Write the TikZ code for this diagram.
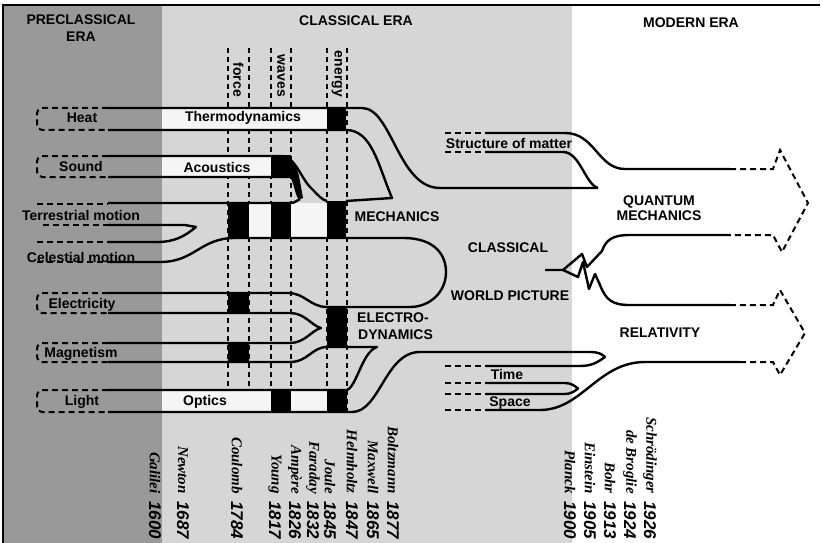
\documentclass[tikz,border=0pt]{standalone}
\usepackage{fontspec}
\setmainfont{Liberation Sans}
\newfontfamily\signame{Liberation Serif}
\begin{document}
\begin{tikzpicture}[x=1pt,y=-1pt,
  bl/.style={line width=2.4pt, line join=round},
  dl/.style={line width=2pt, dash pattern=on 6pt off 4pt},
  vd/.style={line width=1.5pt, dash pattern=on 5pt off 4pt},
  lbl/.style={font=\fontsize{14}{15}\selectfont\bfseries, inner sep=0pt, align=center},
  vlbl/.style={lbl, rotate=-90, anchor=east},
  nm/.style={rotate=-90, anchor=east, inner sep=0pt, font=\signame\bfseries\itshape\fontsize{15}{17}\selectfont},
  yr/.style={rotate=-90, anchor=west, inner sep=0pt, font=\fontsize{17}{19}\selectfont\bfseries\itshape}]
\useasboundingbox (0,0) rectangle (823,543);
\begin{scope}
\clip (0,0) rectangle (823,543);
% era backgrounds
\fill[white] (0,0) rectangle (823,543);
\fill[black!40] (3,5) rectangle (162,543);
\fill[black!16] (162,5) rectangle (572,543);
\draw[line width=1.5pt] (3,543) -- (3,5) -- (820,5);

% vertical dashed guides (force, waves, energy)
\foreach \x in {228,249,271,291,327,347} \draw[vd] (\x,48) -- (\x,412);

% lighter band interiors
\fill[black!4] (162,108) rectangle (327,130);
\fill[black!4] (162,156) rectangle (271,177);
\fill[black!4] (249,203) rectangle (271,238);
\fill[black!4] (291,203) rectangle (327,238);
\fill[black!4] (162,390) rectangle (271,412);
\fill[black!4] (291,390) rectangle (327,412);

% black bars
\fill (327,108) rectangle (346,130);
\fill (271,155) rectangle (291,178);
\fill (280,155) .. controls (292,156) and (296,165) .. (299,176) -- (303,198) -- (300,199)
  .. controls (296,195) and (295,181) .. (291,177) -- (271,177) -- (271,155) -- cycle;
\fill (228,203) rectangle (249,238);
\fill (271,203) rectangle (291,238);
\fill (327,201) rectangle (346,238);
\fill (228,293) rectangle (249,313);
\fill (228,343) rectangle (249,362);
\fill (327,307) rectangle (347,347);
\fill (271,390) rectangle (291,412);
\fill (327,390) rectangle (347,412);

% source boxes (dashed)
\draw[dl, rounded corners=5pt] (108,108) -- (37,108) -- (37,130) -- (108,130);
\draw[dl, rounded corners=5pt] (108,156) -- (37,156) -- (37,177) -- (108,177);
\draw[dl] (37,204) -- (108,204);
\draw[dl] (43,225) -- (108,225);
\draw[dl] (37,242) -- (108,242);
\draw[dl] (37,262) -- (108,262);
\draw[dl, rounded corners=5pt] (108,293) -- (37,293) -- (37,313) -- (108,313);
\draw[dl, rounded corners=5pt] (108,343) -- (37,343) -- (37,362) -- (108,362);
\draw[dl, rounded corners=5pt] (108,390) -- (37,390) -- (37,412) -- (108,412);
\draw[dl] (445,133) -- (485,133);
\draw[dl] (445,152) -- (485,152);
\draw[dl] (445,366) -- (485,366);
\draw[dl] (445,383) -- (485,383);
\draw[dl] (445,394) -- (485,394);
\draw[dl] (445,410) -- (485,410);

% heat / thermodynamics
\draw[bl] (108,108) -- (362,108) .. controls (392,108) and (398,188) .. (440,188) -- (598,188);
\draw[bl] (108,130) -- (346,130) .. controls (372,130) and (378,165) .. (392,198) -- (346,201);
% sound / acoustics
\draw[bl] (108,156) -- (280,156) .. controls (296,156) and (300,178) .. (312,189) .. controls (318,195) and (322,200) .. (327,201);
\draw[bl] (108,177) -- (291,177) .. controls (295,181) and (296,195) .. (300,199);
% mechanics
\draw[bl] (108,203) -- (291,203) .. controls (295,203) and (297,200) .. (300,199);
\draw[bl] (108,225) -- (185,225) -- (196,227) .. controls (185,236) and (175,242) .. (157,242) -- (108,242);
\draw[bl] (108,262) -- (160,262) .. controls (195,262) and (200,238) .. (235,238) -- (403,238)
  .. controls (438,238) and (446,258) .. (446,272) .. controls (446,292) and (430,307) .. (410,307)
  -- (327,307) .. controls (310,307) and (305,293) .. (288,293) -- (108,293);
% electricity / magnetism
\draw[bl] (108,313) -- (290,313) .. controls (305,313) and (312,326) .. (321,328)
  .. controls (312,330) and (305,343) .. (290,343) -- (108,343);
\draw[bl] (108,362) -- (290,362) .. controls (308,362) and (312,347) .. (327,347) -- (377,347)
  .. controls (362,352) and (357,386) .. (347,390) -- (108,390);
% optics -> relativity side
\draw[bl] (108,412) -- (352,412) .. controls (380,412) and (385,352) .. (420,352) -- (590,352)
  .. controls (598,352) and (602,354) .. (605,357) .. controls (598,362) and (592,366) .. (580,366) -- (485,366);
\draw[bl] (485,383) -- (565,383) .. controls (571,383) and (575,386) .. (578,388.5)
  .. controls (575,391) and (571,394) .. (565,394) -- (485,394);
\draw[bl] (485,410) -- (540,410) .. controls (582,410) and (598,362) .. (645,362) -- (740,362);
\draw[dl] (740,362) -- (773,362) -- (780,375) -- (805,333) -- (780,290) -- (773,305) -- (730,305);
% structure of matter -> quantum mechanics
\draw[bl] (485,133) -- (565,133) .. controls (595,133) and (598,169) .. (625,169) -- (730,169);
\draw[bl] (485,152) -- (563,152) .. controls (580,152) and (585,184) .. (598,188);
\draw[dl] (730,169) -- (773,169) -- (780,150) -- (808,203) -- (782,252) -- (773,235) -- (730,235);
% break of the classical world picture
\draw[bl] (545,270) -- (563,270) -- (582,254) -- (587,267) -- (602,251)
  .. controls (606,240) and (612,235) .. (630,235) -- (730,235);
\draw[bl] (563,270) -- (578,277) -- (583,262) -- (589,289) -- (595,274) -- (600,285)
  .. controls (606,300) and (612,305) .. (630,305) -- (730,305);

% era titles
\node[lbl] (pre) at (81,28) {PRECLASSICAL\\[2pt]ERA};
\node[lbl] (cla) at (356,21) {CLASSICAL ERA};
\node[lbl] (mod) at (691,23) {MODERN ERA};
% concept labels
\node[vlbl] (force) at (238.5,97) {force};
\node[vlbl] (waves) at (281,97) {waves};
\node[vlbl] (energy) at (337,97) {energy};
% sources
\node[lbl] (heat) at (82,118) {Heat};
\node[lbl] (sound) at (81,166) {Sound};
\node[lbl] (terr) at (81,215) {Terrestrial motion};
\node[lbl] (cel) at (81,257) {Celestial motion};
\node[lbl] (elec) at (82,305) {Electricity};
\node[lbl] (magn) at (81,354) {Magnetism};
\node[lbl] (light) at (82,402) {Light};
% classical theories
\node[lbl] (thermo) at (243,118) {Thermodynamics};
\node[lbl] (acou) at (217,167) {Acoustics};
\node[lbl] (optics) at (205,402) {Optics};
\node[lbl] (mech) at (397,217) {MECHANICS};
\node[lbl, anchor=west] (ed1) at (357,318) {ELECTRO-};
\node[lbl, anchor=west] (ed2) at (358,335) {DYNAMICS};
\node[lbl] (cwp1) at (508,248) {CLASSICAL};
\node[lbl] (cwp2) at (510,296) {WORLD PICTURE};
\node[lbl] (som) at (509,143) {Structure of matter};
\node[lbl] (time) at (507,374) {Time};
\node[lbl] (space) at (510,403) {Space};
% modern theories
\node[lbl] (qm) at (659,208) {QUANTUM\\MECHANICS};
\node[lbl] (rel) at (660,333) {RELATIVITY};

% names and years
\foreach \x/\n/\y [count=\i] in {155/Galilei/1600, 183/Newton/1687, 237/Coulomb/1784,
  275/Young/1817, 295/Ampère/1826, 313/Faraday/1832, 330/Joule/1845, 352/Helmholtz/1847,
  373/Maxwell/1865, 393/Boltzmann/1877, 570/Planck/1900, 590/Einstein/1905, 610/Bohr/1913,
  630/de Broglie/1924, 650/Schrödinger/1926}
{
  \node[nm] (name\i) at (\x,494) {\n};
  \node[yr] (year\i) at (\x,501) {\y};
}
\end{scope}
\end{tikzpicture}
\end{document}
